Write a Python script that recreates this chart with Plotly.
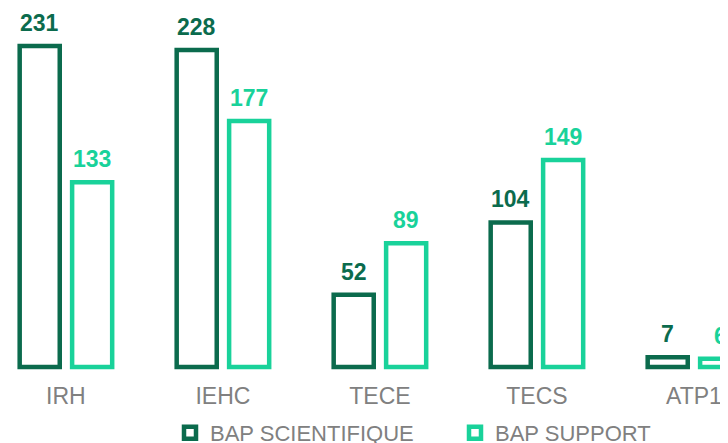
import plotly.graph_objects as go

categories = ["IRH", "IEHC", "TECE", "TECS", "ATP1"]
scientifique = [231, 228, 52, 104, 7]
support = [133, 177, 89, 149, 6]
series_names = ["BAP SCIENTIFIQUE", "BAP SUPPORT"]

dark = "#0B6B4D"
light = "#19D29A"
gray = "#808080"

fig = go.Figure()
fig.add_trace(go.Bar(
    x=categories, y=scientifique, name=series_names[0],
    marker=dict(color="white", line=dict(color=dark, width=4.5)),
    legend="legend",
))
fig.add_trace(go.Bar(
    x=categories, y=support, name=series_names[1],
    marker=dict(color="white", line=dict(color=light, width=4.5)),
    legend="legend2",
))

# value labels above bars
for vals, color, shift in [(scientifique, dark, -26.3), (support, light, 26.3)]:
    for c, v in zip(categories, vals):
        fig.add_annotation(
            x=c, y=v, xref="x", yref="y", text=f"<b>{v}</b>", showarrow=False,
            xshift=shift, yanchor="bottom", yshift=8,
            font=dict(color=color, size=23, family="Liberation Sans"),
        )

legend_common = dict(orientation="h", yanchor="middle", y=-0.1676, xanchor="left",
                     font=dict(size=22, color=gray, family="Liberation Sans"),
                     bgcolor="rgba(0,0,0,0)", itemwidth=30)
fig.update_layout(
    width=720, height=435,
    margin=dict(l=0, r=0, t=0, b=71, autoexpand=False),
    plot_bgcolor="white", paper_bgcolor="white",
    barmode="group", bargap=0.332, bargroupgap=0.236,
    font=dict(family="Liberation Sans", color=gray),
    showlegend=True,
    legend=dict(x=162 / 720, **legend_common),
    legend2=dict(x=447 / 720, **legend_common),
)
fig.update_xaxes(range=[-0.369, 4.217], showgrid=False, showline=False, zeroline=False,
                 ticks="", tickfont=dict(size=23, color=gray, family="Liberation Sans"),
                 ticklabelstandoff=8, automargin=False)
fig.update_yaxes(range=[-3.6, 258.3], visible=False, automargin=False)

fig.write_html("out.html")
